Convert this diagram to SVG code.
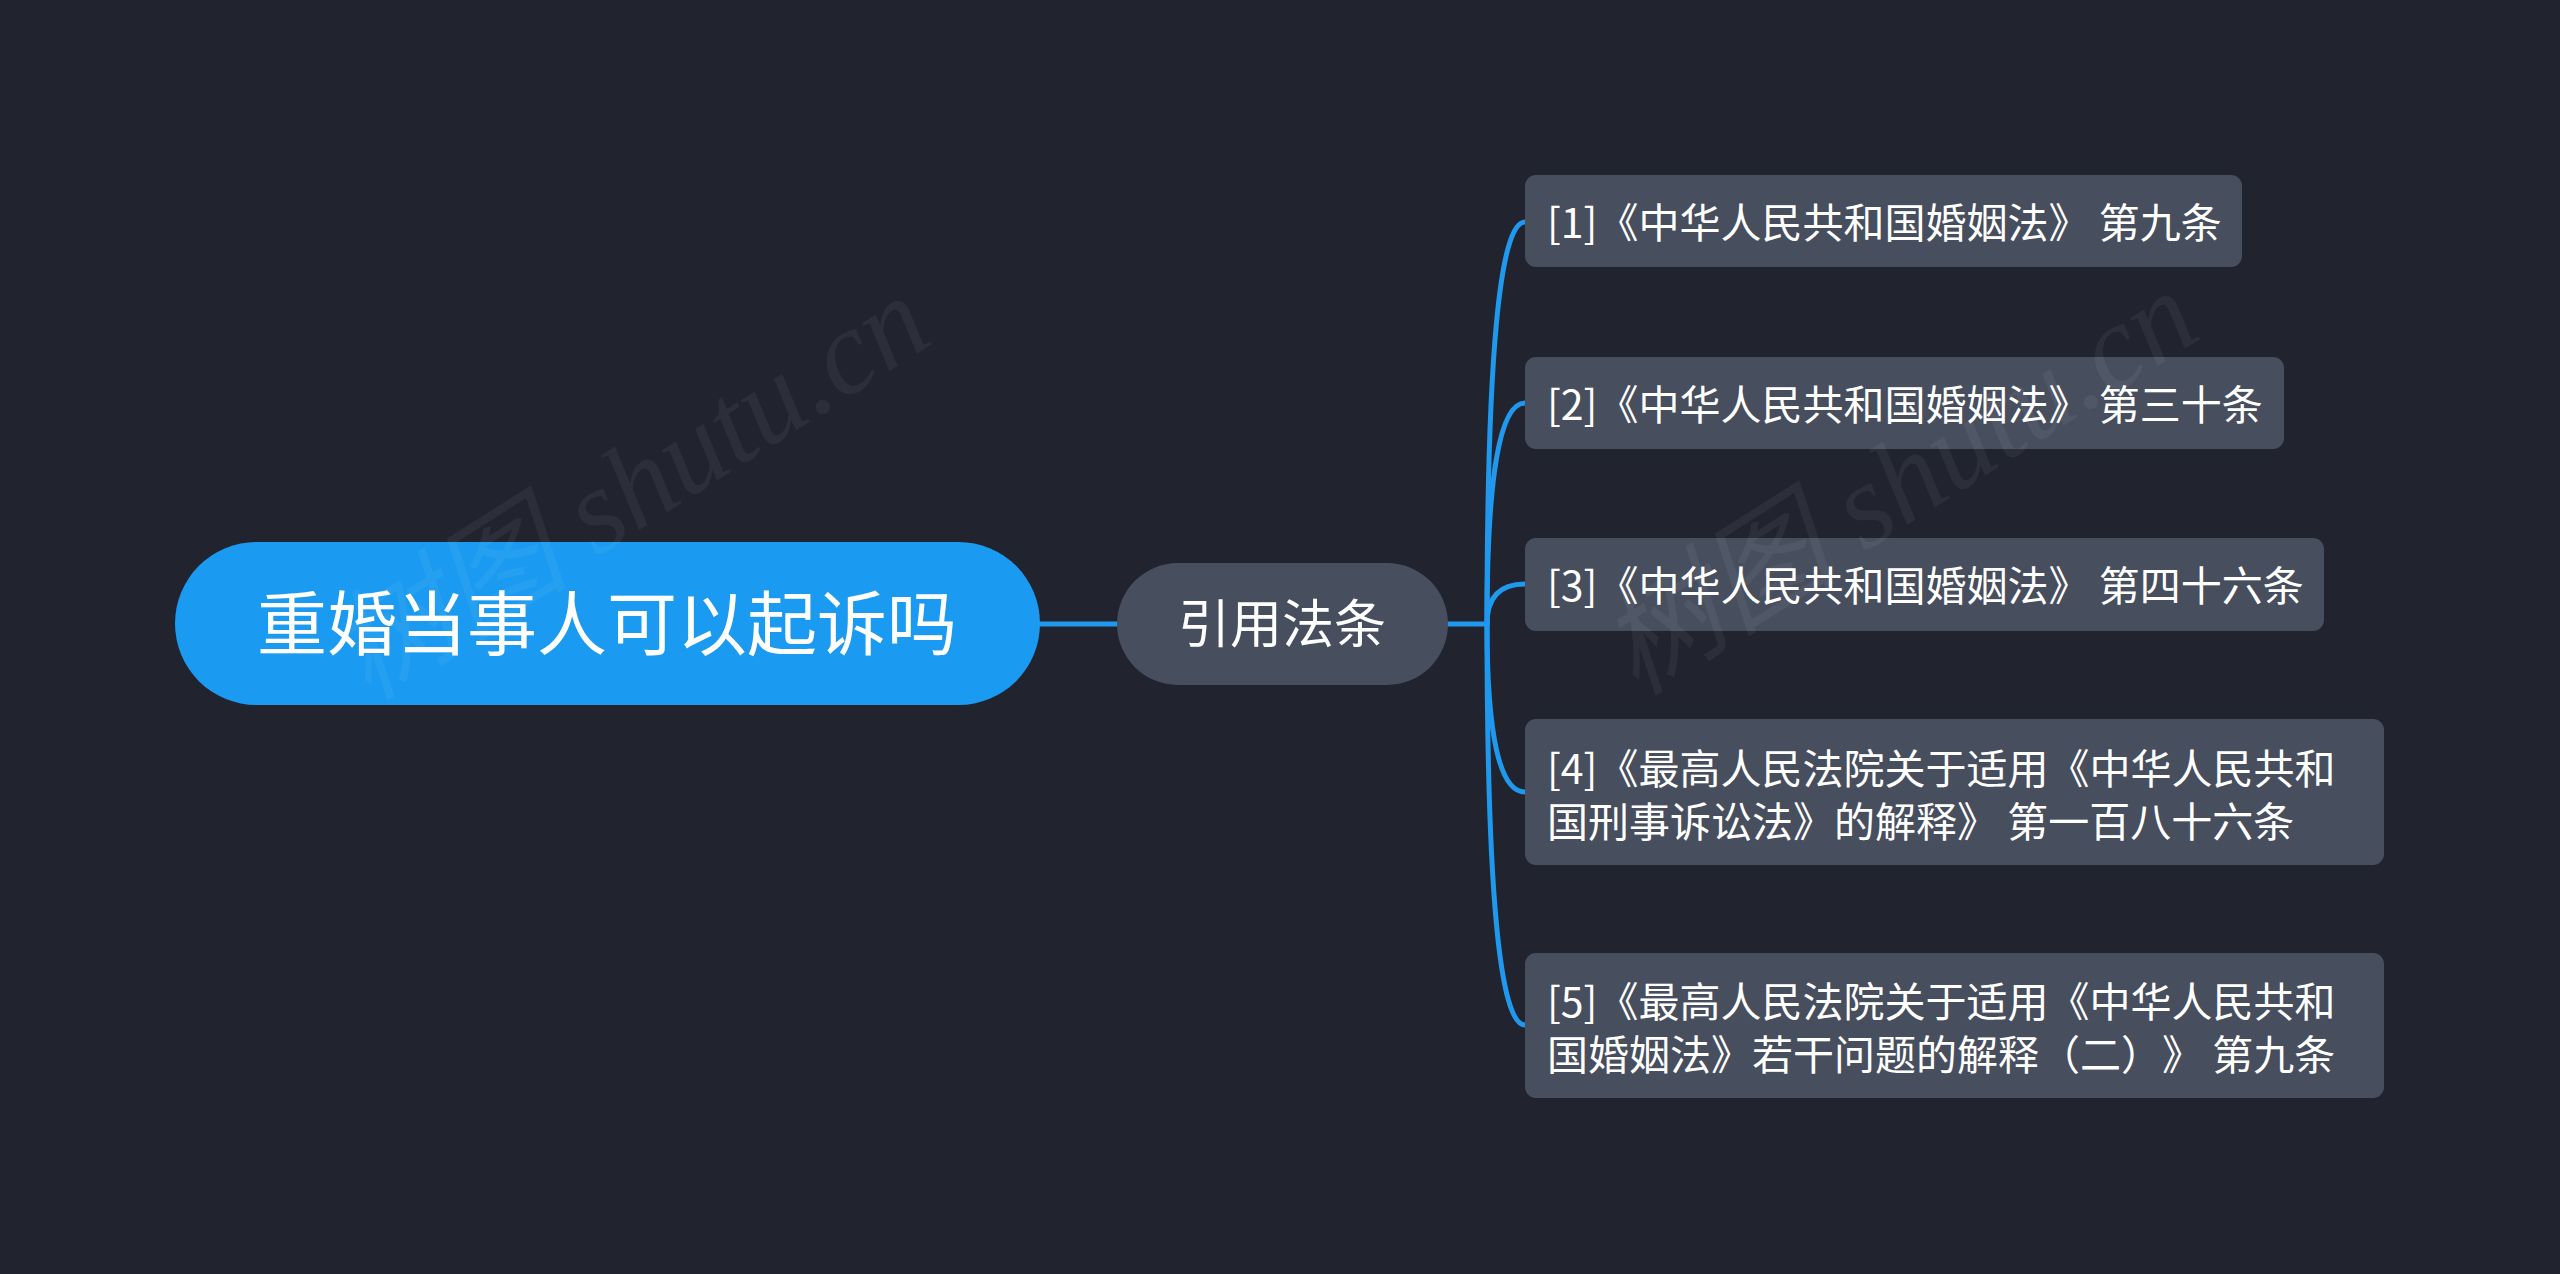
<svg xmlns="http://www.w3.org/2000/svg" width="2560" height="1274" viewBox="0 0 2560 1274">
<style>
.bg{fill:#21242f}
.root{fill:#1a9af0}
.box{fill:#474e5e}
.t{font-family:"Noto Sans CJK SC","Noto Sans",sans-serif;fill:#ffffff;text-spacing-trim:space-all}
.leaf{font-size:41px}
.link{fill:none;stroke:#1f98ee;stroke-width:5;stroke-linecap:round}
.wm{font-family:"Liberation Serif","Noto Sans CJK SC",serif;font-style:italic;font-size:120px;fill:#ffffff;fill-opacity:0.05}
</style>
<rect class="bg" x="0" y="0" width="2560" height="1274"/>
<g id="connectors">
<path class="link" d="M1040 624 H1117"/>
<path class="link" d="M1448 624 H1487"/>
<path class="link" d="M1487 624 Q1487 222 1525 222"/>
<path class="link" d="M1487 624 Q1487 403 1525 403"/>
<path class="link" d="M1487 624 Q1487 584 1525 584"/>
<path class="link" d="M1487 624 Q1487 792 1525 792"/>
<path class="link" d="M1487 624 Q1487 1025 1525 1025"/>
</g>
<g id="root">
<rect class="root" x="175" y="542" width="865" height="163" rx="81.5"/>
<text class="t" x="607" y="650" font-size="70" text-anchor="middle">重婚当事人可以起诉吗</text>
</g>
<g id="mid">
<rect class="box" x="1117" y="563" width="331" height="122" rx="61"/>
<text class="t" x="1282" y="643" font-size="52" text-anchor="middle">引用法条</text>
</g>
<g id="leaf1">
<rect class="box" x="1525" y="175" width="717" height="92" rx="11"/>
<text class="t leaf" x="1547" y="238">[1]《中华人民共和国婚姻法》 第九条</text>
</g>
<g id="leaf2">
<rect class="box" x="1525" y="357" width="759" height="92" rx="11"/>
<text class="t leaf" x="1547" y="420">[2]《中华人民共和国婚姻法》 第三十条</text>
</g>
<g id="leaf3">
<rect class="box" x="1525" y="538" width="799" height="93" rx="11"/>
<text class="t leaf" x="1547" y="601">[3]《中华人民共和国婚姻法》 第四十六条</text>
</g>
<g id="leaf4">
<rect class="box" x="1525" y="719" width="859" height="146" rx="11"/>
<text class="t leaf" x="1547" y="784">[4]《最高人民法院关于适用《中华人民共和</text>
<text class="t leaf" x="1547" y="837">国刑事诉讼法》的解释》 第一百八十六条</text>
</g>
<g id="leaf5">
<rect class="box" x="1525" y="953" width="859" height="145" rx="11"/>
<text class="t leaf" x="1547" y="1017">[5]《最高人民法院关于适用《中华人民共和</text>
<text class="t leaf" x="1547" y="1070">国婚姻法》若干问题的解释（二）》 第九条</text>
</g>
<g id="watermark">
<text class="wm" transform="translate(368 702) rotate(-32.4)">树图 shutu.cn</text>
<text class="wm" transform="translate(1636 697) rotate(-32.4)">树图 shutu.cn</text>
</g>
</svg>
